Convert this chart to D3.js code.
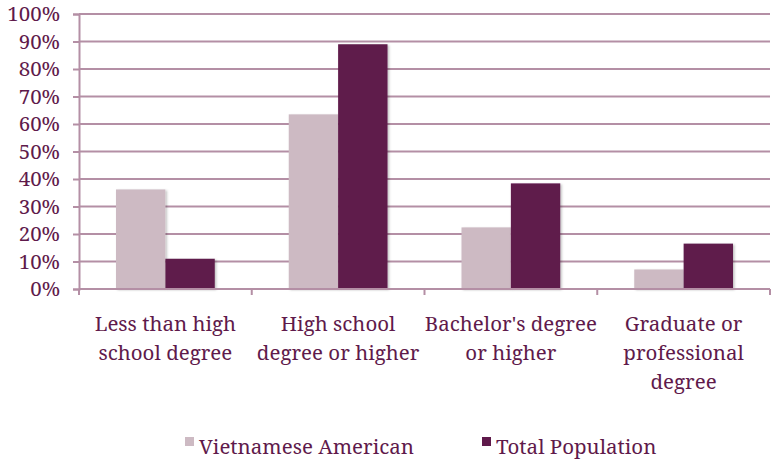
<!DOCTYPE html>
<html>
<head>
<meta charset="utf-8">
<script src="https://cdn.jsdelivr.net/npm/d3@7/dist/d3.min.js"></script>
<style>
  body { margin: 0; background: #fff; }
</style>
</head>
<body>
<svg id="chart" width="773" height="459"></svg>
<script>
var categories = [
    ['Less than high', 'school degree'],
    ['High school', 'degree or higher'],
    ["Bachelor's degree", 'or higher'],
    ['Graduate or', 'professional', 'degree']
];
var seriesNames = ['Vietnamese American', 'Total Population'];
var vietnamese = [36.2, 63.5, 22.4, 7.1];
var total = [11.0, 89.0, 38.4, 16.5];
var yTicks = [0, 10, 20, 30, 40, 50, 60, 70, 80, 90, 100];
var colors = ['#cdbac3', '#5f1a4b'];

var fontName = 'Noto Serif';
var fontSize = 20.5;
var textColor = '#5f1a4b';
var gridColor = '#b48fa5';

var svg = d3.select('#chart');
var margin = { left: 79, right: 3, top: 14, bottom: 170 };
var width = 773 - margin.left - margin.right;
var height = 459 - margin.top - margin.bottom;

var defs = svg.append('defs');
var shadow = defs.append('filter').attr('id', 'shadow')
    .attr('x', '-10%').attr('y', '-10%').attr('width', '130%').attr('height', '130%');
shadow.append('feDropShadow')
    .attr('dx', 1.5).attr('dy', 1).attr('stdDeviation', 1.2)
    .attr('flood-color', '#000').attr('flood-opacity', 0.25);

var g = svg.append('g').attr('transform', 'translate(' + margin.left + ',' + margin.top + ')');

var x0 = d3.scaleBand().domain(d3.range(categories.length)).range([0, width]);
var x1 = d3.scaleBand().domain([0, 1]).range([37, x0.bandwidth() - 37]);
var y = d3.scaleLinear().domain([0, 100]).range([height, 0]);

// gridlines
g.append('g').selectAll('line')
    .data(yTicks.filter(function(d) { return d > 0; }))
    .enter().append('line')
    .attr('x1', 0).attr('x2', width)
    .attr('y1', function(d) { return y(d); })
    .attr('y2', function(d) { return y(d); })
    .attr('stroke', gridColor).attr('stroke-width', 2);

// y axis
var yAxis = g.append('g')
    .call(d3.axisLeft(y).tickValues(yTicks).tickSize(6).tickPadding(13)
        .tickFormat(function(d) { return d + '%'; }));
yAxis.attr('font-family', fontName);
yAxis.select('.domain').attr('stroke', gridColor).attr('stroke-width', 2);
yAxis.selectAll('.tick line').attr('stroke', gridColor).attr('stroke-width', 2);
yAxis.selectAll('.tick text')
    .attr('font-family', fontName)
    .attr('font-size', fontSize).attr('fill', textColor).attr('dy', '0.34em');

// bars
var data = categories.map(function(c, i) { return [vietnamese[i], total[i]]; });
var groups = g.append('g').selectAll('g')
    .data(data)
    .enter().append('g')
    .attr('transform', function(d, i) { return 'translate(' + x0(i) + ',0)'; });
groups.selectAll('rect')
    .data(function(d) { return d; })
    .enter().append('rect')
    .attr('x', function(d, j) { return x1(j); })
    .attr('width', x1.bandwidth())
    .attr('y', function(d) { return y(d); })
    .attr('height', function(d) { return height - y(d); })
    .attr('fill', function(d, j) { return colors[j]; })
    .attr('filter', 'url(#shadow)');

// x axis
var xAxis = g.append('g').attr('transform', 'translate(0,' + height + ')');
xAxis.append('line').attr('x1', 0).attr('x2', width)
    .attr('stroke', gridColor).attr('stroke-width', 2);
xAxis.selectAll('line.tick')
    .data(d3.range(categories.length + 1))
    .enter().append('line').attr('class', 'tick')
    .attr('x1', function(d) { return d * x0.bandwidth(); })
    .attr('x2', function(d) { return d * x0.bandwidth(); })
    .attr('y1', 0).attr('y2', 6)
    .attr('stroke', gridColor).attr('stroke-width', 2);

var labels = xAxis.selectAll('text.cat')
    .data(categories)
    .enter().append('text').attr('class', 'cat')
    .attr('text-anchor', 'middle')
    .attr('font-family', fontName)
    .attr('font-size', fontSize)
    .attr('fill', textColor)
    .attr('transform', function(d, i) { return 'translate(' + (x0(i) + x0.bandwidth() / 2) + ',42)'; });
labels.selectAll('tspan')
    .data(function(d) { return d; })
    .enter().append('tspan')
    .attr('x', 0)
    .attr('y', function(d, k) { return k * 29; })
    .text(function(d) { return d; });

// legend
var legendPos = [185, 482];
var legend = svg.append('g').selectAll('g')
    .data(seriesNames)
    .enter().append('g')
    .attr('transform', function(d, i) { return 'translate(' + legendPos[i] + ',437)'; });
legend.append('rect').attr('width', 9).attr('height', 9)
    .attr('fill', function(d, i) { return colors[i]; });
legend.append('text').attr('x', 14).attr('y', 17)
    .attr('font-family', fontName)
    .attr('font-size', fontSize)
    .attr('fill', textColor)
    .text(function(d) { return d; });
</script>
</body>
</html>
